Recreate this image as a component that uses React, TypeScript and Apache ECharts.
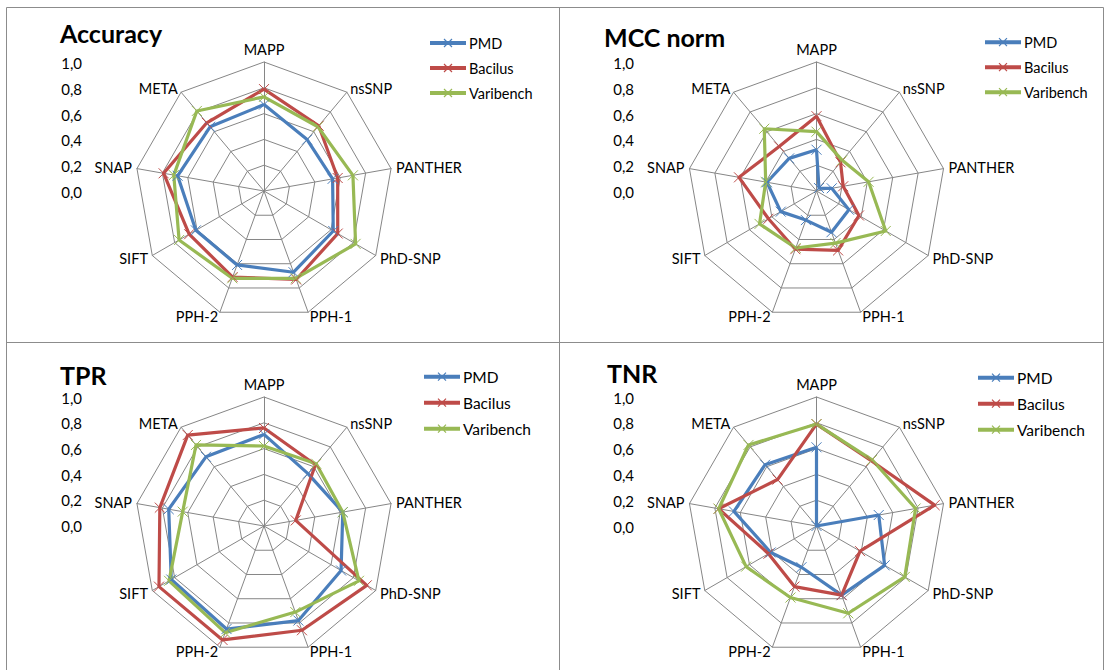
import React, { useEffect, useRef } from 'react';
import * as echarts from 'echarts';

// Indicators in clockwise order starting from the top
const categories = ['MAPP', 'nsSNP', 'PANTHER', 'PhD-SNP', 'PPH-1', 'PPH-2', 'SIFT', 'SNAP', 'META'];
const seriesNames = ['PMD', 'Bacilus', 'Varibench'];
const colors = ['#4A7EBB', '#BE4B48', '#98B954'];
const panelTitles = ['Accuracy', 'MCC norm', 'TPR', 'TNR'];

// Accuracy
const accuracyPMD = [0.67, 0.52, 0.54, 0.62, 0.67, 0.61, 0.61, 0.68, 0.65];
const accuracyBacilus = [0.79, 0.66, 0.58, 0.66, 0.73, 0.71, 0.67, 0.79, 0.69];
const accuracyVaribench = [0.73, 0.65, 0.70, 0.82, 0.72, 0.72, 0.76, 0.71, 0.81];

// MCC norm
const mccPMD = [0.32, 0.03, 0.12, 0.29, 0.34, 0.24, 0.32, 0.39, 0.33];
const mccBacilus = [0.58, 0.29, 0.21, 0.38, 0.49, 0.48, 0.43, 0.61, 0.45];
const mccVaribench = [0.46, 0.31, 0.41, 0.62, 0.43, 0.47, 0.51, 0.40, 0.63];

// TPR
const tprPMD = [0.71, 0.53, 0.62, 0.69, 0.78, 0.85, 0.83, 0.75, 0.70];
const tprBacilus = [0.76, 0.62, 0.25, 0.92, 0.86, 0.94, 0.94, 0.82, 0.92];
const tprVaribench = [0.62, 0.63, 0.62, 0.85, 0.71, 0.88, 0.85, 0.64, 0.82];

// TNR
const tnrPMD = [0.61, 0.0, 0.49, 0.61, 0.57, 0.34, 0.41, 0.65, 0.62];
const tnrBacilus = [0.79, 0.66, 0.93, 0.39, 0.57, 0.50, 0.43, 0.77, 0.47];
const tnrVaribench = [0.79, 0.67, 0.78, 0.79, 0.72, 0.59, 0.63, 0.77, 0.82];

const panelValues = [
  [accuracyPMD, accuracyBacilus, accuracyVaribench],
  [mccPMD, mccBacilus, mccVaribench],
  [tprPMD, tprBacilus, tprVaribench],
  [tnrPMD, tnrBacilus, tnrVaribench],
];

// layout (pixels)
const layout = [
  { cx: 264, cy: 191, tx: 60, ty: 20, gx: 86, gy: 63, gh: 129, lx: 430, ly: 35.5, lfs: 14.5 },
  { cx: 816.5, cy: 191, tx: 604, ty: 24, gx: 638, gy: 63, gh: 129, lx: 985, ly: 34.7, lfs: 14.5 },
  { cx: 264, cy: 526, tx: 60, ty: 362, gx: 86, gy: 397.5, gh: 128.5, lx: 424, ly: 368.7, lfs: 15.5 },
  { cx: 816.5, cy: 526, tx: 607, ty: 360, gx: 638, gy: 397.5, gh: 129, lx: 978, ly: 369.7, lfs: 15.5 },
];

const FONT = 'Lato';
const ccw = [0, 8, 7, 6, 5, 4, 3, 2, 1];
const xSymbol = 'path://M0,0L10,10M10,0L0,10';
const legendIcon =
  'path://M0,2.5L36,2.5L36,6.5L0,6.5Z' +
  'M14.42,0.08L22.42,8.08L21.58,8.92L13.58,0.92Z' +
  'M22.42,0.92L14.42,8.92L13.58,8.08L21.58,0.08Z';
const fmt = (v: number) => v.toFixed(1).replace('.', ',');

export default function App() {
  const ref = useRef<HTMLDivElement>(null);
  useEffect(() => {
    if (!ref.current) return;
    const chart = echarts.init(ref.current, undefined, { renderer: 'svg' });
    const gray = '#868686';
    const frame = '#8c8c8c';
    const lines = [
      [6.5, 7.5, 1103.5, 7.5],
      [6.5, 7.5, 6.5, 670],
      [1103.5, 7.5, 1103.5, 670],
      [559.5, 7.5, 559.5, 670],
      [6.5, 342.5, 1103.5, 342.5],
    ];
    chart.setOption({
      animation: false,
      backgroundColor: '#fff',
      graphic: lines.map((l) => ({
        type: 'line',
        shape: { x1: l[0], y1: l[1], x2: l[2], y2: l[3] },
        style: { stroke: frame, lineWidth: 1 },
        silent: true,
      })),
      title: layout.map((p, k) => ({
        text: panelTitles[k],
        left: p.tx,
        top: p.ty,
        padding: 0,
        textStyle: { fontSize: 25, fontWeight: 'bold', fontFamily: FONT, color: '#000' },
      })),
      legend: layout.map((p) => ({
        data: seriesNames,
        orient: 'vertical',
        left: p.lx,
        top: p.ly,
        padding: 0,
        itemWidth: 36,
        itemHeight: 9,
        itemGap: 10,
        icon: legendIcon,
        selectedMode: false,
        itemStyle: { borderWidth: 0 },
        textStyle: { fontSize: p.lfs, fontFamily: FONT, color: '#000', padding: [0, 0, 0, -2] },
      })),
      grid: layout.map((p) => ({ left: p.gx, top: p.gy, width: 10, height: p.gh, show: false })),
      xAxis: layout.map((p, k) => ({ gridIndex: k, type: 'value', show: false })),
      yAxis: layout.map((p, k) => ({
        gridIndex: k,
        type: 'value',
        min: 0,
        max: 1,
        interval: 0.2,
        axisLine: { show: false },
        axisTick: { show: false },
        splitLine: { show: false },
        axisLabel: { margin: 4, fontSize: 15, fontFamily: FONT, color: '#000', formatter: fmt },
      })),
      radar: layout.map((p) => ({
        center: [p.cx, p.cy],
        radius: 129,
        startAngle: 90,
        splitNumber: 5,
        shape: 'polygon',
        nameGap: 5,
        indicator: ccw.map((i) => ({ name: categories[i], min: 0, max: 1 })),
        axisName: { color: '#000', fontSize: 14.5, fontFamily: FONT },
        splitLine: { lineStyle: { color: gray, width: 1 } },
        splitArea: { show: false },
        axisLine: { lineStyle: { color: gray, width: 1 } },
        axisTick: { show: false },
        axisLabel: { show: false },
      })),
      series: panelValues.map((vals, k) => ({
        type: 'radar',
        radarIndex: k,
        silent: true,
        symbol: xSymbol,
        symbolSize: 10,
        data: vals.map((arr, j) => ({
          name: seriesNames[j],
          value: ccw.map((i) => arr[i]),
          lineStyle: { color: colors[j], width: 3.2 },
          itemStyle: { color: colors[j], borderColor: colors[j], borderWidth: 1 },
        })),
      })),
    });
    return () => chart.dispose();
  }, []);
  return (
    <div
      ref={ref}
      style={{ position: 'fixed', left: 0, top: 0, width: 1105, height: 670, background: '#fff' }}
    />
  );
}
